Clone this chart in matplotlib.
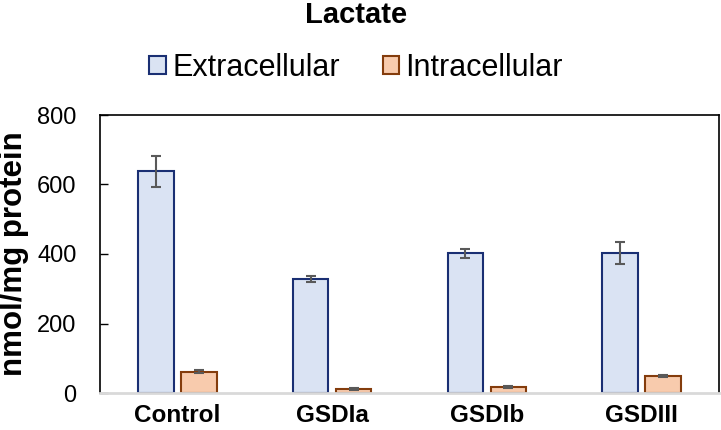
import numpy as np
import matplotlib
matplotlib.use('Agg')
import matplotlib.pyplot as plt

plt.rcParams['font.family'] = ['Liberation Sans', 'DejaVu Sans']

categories = ['Control', 'GSDIa', 'GSDIb', 'GSDIII']
extracellular = [638, 328, 402, 402]
extracellular_err = [45, 9, 13, 32]
intracellular = [61, 11, 17, 48]
intracellular_err = [4, 3, 4, 3]

fig = plt.figure(figsize=(7.21, 4.30), dpi=100)
ax = fig.add_axes([100 / 721, 37 / 430, 619 / 721, 278 / 430])

x = np.arange(len(categories))
width = 0.229
off = 0.139
err_kw = dict(ecolor='#595959', elinewidth=1.5, capsize=3.3, capthick=1.5)

ax.bar(x - off, extracellular, width, yerr=extracellular_err,
       color='#DAE3F3', edgecolor='#1A2F73', linewidth=1.5,
       label='Extracellular', error_kw=err_kw, zorder=2)
ax.bar(x + off, intracellular, width, yerr=intracellular_err,
       color='#F8CBAD', edgecolor='#843C0C', linewidth=1.5,
       label='Intracellular', error_kw=err_kw, zorder=2)

ax.set_xlim(-0.5, 3.5)
ax.set_ylim(0, 800)
ax.set_yticks([0, 200, 400, 600, 800])
ax.set_xticks(x)
ax.set_xticklabels(categories, fontsize=17.5, fontweight='bold')
ax.tick_params(axis='y', direction='in', length=6, width=1,
               labelsize=17, pad=17)
ax.tick_params(axis='x', length=0, pad=8)

for s in ['left', 'top', 'right']:
    ax.spines[s].set_color('black')
    ax.spines[s].set_linewidth(1.2)
ax.spines['bottom'].set_color('#D9D9D9')
ax.spines['bottom'].set_linewidth(2)

ax.set_ylabel('nmol/mg protein', fontsize=22.5, fontweight='bold', labelpad=6)

fig.text(0.494, 1 - 15 / 430, 'Lactate', ha='center', va='center',
         fontsize=21, fontweight='bold')
fig.legend(loc='center', bbox_to_anchor=(0.494, 1 - 68 / 430), ncol=2,
           frameon=False, fontsize=22, handlelength=0.55, handleheight=0.55,
           handletextpad=0.2, columnspacing=1.4)

fig.savefig('out.png', dpi=100)
